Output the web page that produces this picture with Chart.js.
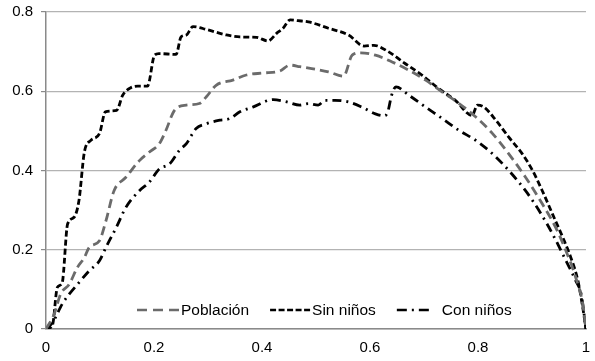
<!DOCTYPE html>
<html>
<head>
<meta charset="utf-8">
<script src="https://cdn.jsdelivr.net/npm/chart.js@4"></script>
<style>
  html, body { margin: 0; padding: 0; background: #ffffff; }
  #wrap { width: 595px; height: 361px; }
</style>
</head>
<body>
<div id="wrap"><canvas id="c" width="595" height="361"></canvas></div>
<script>
// Series names
const seriesLabels = ["Población", "Sin niños", "Con niños"];

// Población
const pobX = [0, 0.015, 0.027, 0.043, 0.058, 0.071, 0.080, 0.099, 0.111, 0.126, 0.148, 0.173, 0.191, 0.210, 0.222, 0.238, 0.260, 0.284, 0.297, 0.315, 0.346, 0.371, 0.402, 0.433, 0.452, 0.470, 0.492, 0.523, 0.551, 0.567, 0.583, 0.610, 0.641, 0.672, 0.703, 0.734, 0.765, 0.796, 0.827, 0.857, 0.888, 0.919, 0.944, 0.963, 0.981, 0.994, 1];
const pobY = [0, 0.037, 0.088, 0.113, 0.155, 0.180, 0.206, 0.223, 0.273, 0.349, 0.383, 0.425, 0.446, 0.468, 0.501, 0.552, 0.565, 0.569, 0.586, 0.615, 0.628, 0.641, 0.646, 0.651, 0.666, 0.662, 0.657, 0.649, 0.638, 0.691, 0.697, 0.691, 0.674, 0.653, 0.628, 0.598, 0.569, 0.535, 0.493, 0.442, 0.383, 0.316, 0.256, 0.197, 0.130, 0.063, 0];

// Sin niños
const sinX = [0, 0.012, 0.021, 0.030, 0.040, 0.052, 0.061, 0.071, 0.083, 0.099, 0.110, 0.131, 0.142, 0.157, 0.170, 0.188, 0.201, 0.209, 0.241, 0.250, 0.260, 0.272, 0.297, 0.334, 0.359, 0.390, 0.411, 0.427, 0.439, 0.452, 0.467, 0.486, 0.523, 0.560, 0.589, 0.607, 0.634, 0.665, 0.696, 0.727, 0.758, 0.789, 0.799, 0.811, 0.833, 0.857, 0.882, 0.901, 0.919, 0.938, 0.957, 0.972, 0.985, 0.994, 1];
const sinY = [0, 0.010, 0.105, 0.117, 0.265, 0.282, 0.324, 0.446, 0.476, 0.493, 0.548, 0.552, 0.590, 0.609, 0.613, 0.613, 0.691, 0.695, 0.693, 0.737, 0.742, 0.763, 0.756, 0.742, 0.737, 0.736, 0.727, 0.746, 0.759, 0.780, 0.778, 0.775, 0.759, 0.742, 0.714, 0.716, 0.700, 0.670, 0.641, 0.607, 0.577, 0.539, 0.565, 0.560, 0.527, 0.484, 0.442, 0.400, 0.349, 0.290, 0.231, 0.180, 0.122, 0.054, 0];

// Con niños
const conX = [0, 0.012, 0.030, 0.043, 0.061, 0.080, 0.099, 0.111, 0.130, 0.148, 0.173, 0.191, 0.210, 0.229, 0.247, 0.260, 0.278, 0.297, 0.322, 0.340, 0.359, 0.383, 0.421, 0.446, 0.470, 0.486, 0.504, 0.517, 0.535, 0.560, 0.585, 0.610, 0.627, 0.633, 0.640, 0.648, 0.672, 0.703, 0.734, 0.765, 0.796, 0.827, 0.857, 0.888, 0.913, 0.938, 0.963, 0.981, 0.991, 1];
const conY = [0, 0.016, 0.063, 0.088, 0.117, 0.147, 0.172, 0.206, 0.256, 0.307, 0.349, 0.370, 0.404, 0.417, 0.451, 0.468, 0.506, 0.518, 0.527, 0.531, 0.548, 0.560, 0.579, 0.573, 0.565, 0.569, 0.565, 0.577, 0.577, 0.573, 0.560, 0.543, 0.538, 0.548, 0.590, 0.611, 0.590, 0.560, 0.531, 0.501, 0.476, 0.442, 0.400, 0.349, 0.299, 0.240, 0.172, 0.122, 0.088, 0];

// Tick labels
const xTickLabels = ["0", "0.2", "0.4", "0.6", "0.8", "1"];
const yTickLabels = ["0", "0.2", "0.4", "0.6", "0.8"];

const FONT = '"Liberation Sans", Arial, sans-serif';

function pts(xs, ys) { return xs.map((x, i) => ({ x: x, y: ys[i] })); }

const styles = [
  { color: '#6b6b6b', dash: [9, 5], legendDash: [10, 6], sampleW: 42, gap: 2 },
  { color: '#000000', dash: [6, 3], legendDash: [6, 2.5], sampleW: 40, gap: 2 },
  { color: '#000000', dash: [9, 5, 2, 5], legendDash: [10, 5, 2, 5], sampleW: 33, gap: 12 }
];

const legendPlugin = {
  id: 'innerLegend',
  afterDraw(chart) {
    const ctx = chart.ctx;
    const yScale = chart.scales.y;
    const cy = yScale.getPixelForValue(0) - 19;
    let x = 137;
    ctx.save();
    ctx.font = '15.5px ' + FONT;
    ctx.textBaseline = 'middle';
    ctx.textAlign = 'left';
    chart.data.datasets.forEach((ds, i) => {
      const st = styles[i];
      ctx.strokeStyle = st.color;
      ctx.lineWidth = 2.7;
      ctx.setLineDash(st.legendDash);
      ctx.beginPath();
      ctx.moveTo(x, cy);
      ctx.lineTo(x + st.sampleW, cy);
      ctx.stroke();
      ctx.setLineDash([]);
      x += st.sampleW + st.gap;
      ctx.fillStyle = '#000000';
      ctx.fillText(ds.label, x, cy + 1);
      x += ctx.measureText(ds.label).width + 21;
    });
    ctx.restore();
  }
};

const datasets = [
  { label: seriesLabels[0], data: pts(pobX, pobY) },
  { label: seriesLabels[1], data: pts(sinX, sinY) },
  { label: seriesLabels[2], data: pts(conX, conY) }
].map((d, i) => Object.assign(d, {
  borderColor: styles[i].color,
  borderDash: styles[i].dash,
  borderWidth: 2.8,
  pointRadius: 0,
  fill: false,
  cubicInterpolationMode: 'monotone',
  borderCapStyle: 'butt'
}));

new Chart(document.getElementById('c'), {
  type: 'line',
  data: { datasets: datasets },
  options: {
    responsive: false,
    animation: false,
    events: [],
    layout: { padding: { top: 12, right: 9, left: 0, bottom: 0 } },
    plugins: { legend: { display: false }, tooltip: { enabled: false } },
    scales: {
      x: {
        type: 'linear',
        min: 0, max: 1,
        afterBuildTicks(scale) { scale.ticks = xTickLabels.map(v => ({ value: parseFloat(v) })); },
        ticks: {
          callback: (v, i) => xTickLabels[i],
          font: { family: FONT, size: 15 },
          color: '#000000',
          padding: 10,
          maxRotation: 0,
          autoSkip: false
        },
        grid: { display: false, drawTicks: false },
        border: { display: true, color: '#8a8a8a', width: 1.5 },
        afterFit(scale) {
          scale.height = 32;
          scale.paddingLeft = 0; scale.paddingRight = 0;
          scale.paddingTop = 0; scale.paddingBottom = 0;
        }
      },
      y: {
        type: 'linear',
        min: 0, max: 0.8,
        afterBuildTicks(scale) { scale.ticks = yTickLabels.map(v => ({ value: parseFloat(v) })); },
        ticks: {
          callback: (v, i) => yTickLabels[i],
          font: { family: FONT, size: 15 },
          color: '#000000',
          padding: 8
        },
        grid: { color: '#b3b3b3', lineWidth: 1.2, drawTicks: true, tickLength: 5, tickColor: '#8a8a8a' },
        border: { display: true, color: '#8a8a8a', width: 1.5 },
        afterFit(scale) {
          scale.width = 46;
          scale.paddingLeft = 0; scale.paddingRight = 0;
          scale.paddingTop = 0; scale.paddingBottom = 0;
        }
      }
    }
  },
  plugins: [legendPlugin]
});
</script>
</body>
</html>
